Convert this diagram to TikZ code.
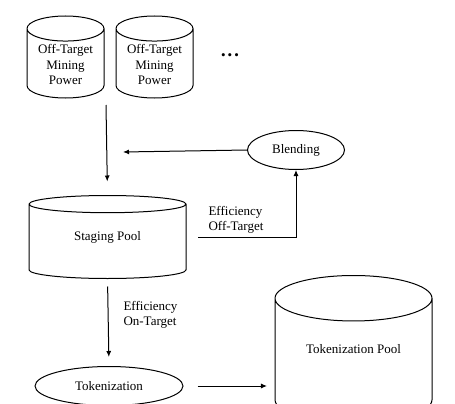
\documentclass[tikz,border=0pt]{standalone}
\usepackage{fontspec}
\setmainfont{Liberation Serif}
\usetikzlibrary{shapes.geometric,arrows.meta}
\begin{document}
\begin{tikzpicture}[x=1pt,y=-1pt,
    pool/.style={draw,line width=1pt,cylinder,shape border rotate=90,align=center,inner sep=1pt,outer sep=0pt,anchor=shape center},
    oval/.style={draw,line width=1pt,ellipse},
    flow/.style={line width=1pt,-{Latex[length=6pt,width=5pt]}},
    every node/.style={font=\fontsize{13}{15.5}\selectfont}]
    % 画布
    \clip (0,0) rectangle (455,404);

    % 矿池
    \node [pool,minimum width=77pt,minimum height=82pt,aspect=0.44] (mine1) at (65.5,57) {Off-Target\\Mining\\Power};
    \node [pool,minimum width=77pt,minimum height=82pt,aspect=0.44] (mine2) at (154.5,57) {Off-Target\\Mining\\Power};
    \node (more) at (230,57) {•\,•\,•};

    % 中转池与代币池
    \node [pool,minimum width=157pt,minimum height=83pt,aspect=0.25] (staging) at (107.5,237) {\phantom{Staging Pool}};
    \node (staginglabel) at (staging.shape center) {Staging Pool};
    \node [pool,minimum width=157pt,minimum height=147pt,aspect=0.47] (tokpool) at (353.5,349) {\phantom{Tokenization Pool}};
    \node (tokpoollabel) at (tokpool.shape center) {Tokenization Pool};

    % 椭圆
    \node [oval,minimum width=97pt,minimum height=39pt] (blend) at (296,150) {Blending};
    \node [oval,minimum width=148pt,minimum height=39pt] (token) at (109,386) {Tokenization};

    % 连线端点
    \coordinate (feed) at (106,105);
    \coordinate (mix) at (123,152);
    \coordinate (offout) at (198,237);

    % 箭头
    \draw [flow,shorten >=14pt] (feed) -- (staging.north);
    \draw [flow] (blend.west) -- (mix);
    \draw [flow] (offout) -| (blend.south);
    \draw [flow,shorten <=8pt,shorten >=9pt] (staging.south) -- (token.north);
    \draw [flow,shorten <=14pt,shorten >=8pt] (token.east) -- (tokpool.west |- token.east);

    % 标注
    \node [align=left,anchor=west] (offlabel) at (205,220) {Efficiency\\Off-Target};
    \node [align=left,anchor=west] (onlabel) at (120,315) {Efficiency\\On-Target};
\end{tikzpicture}
\end{document}
